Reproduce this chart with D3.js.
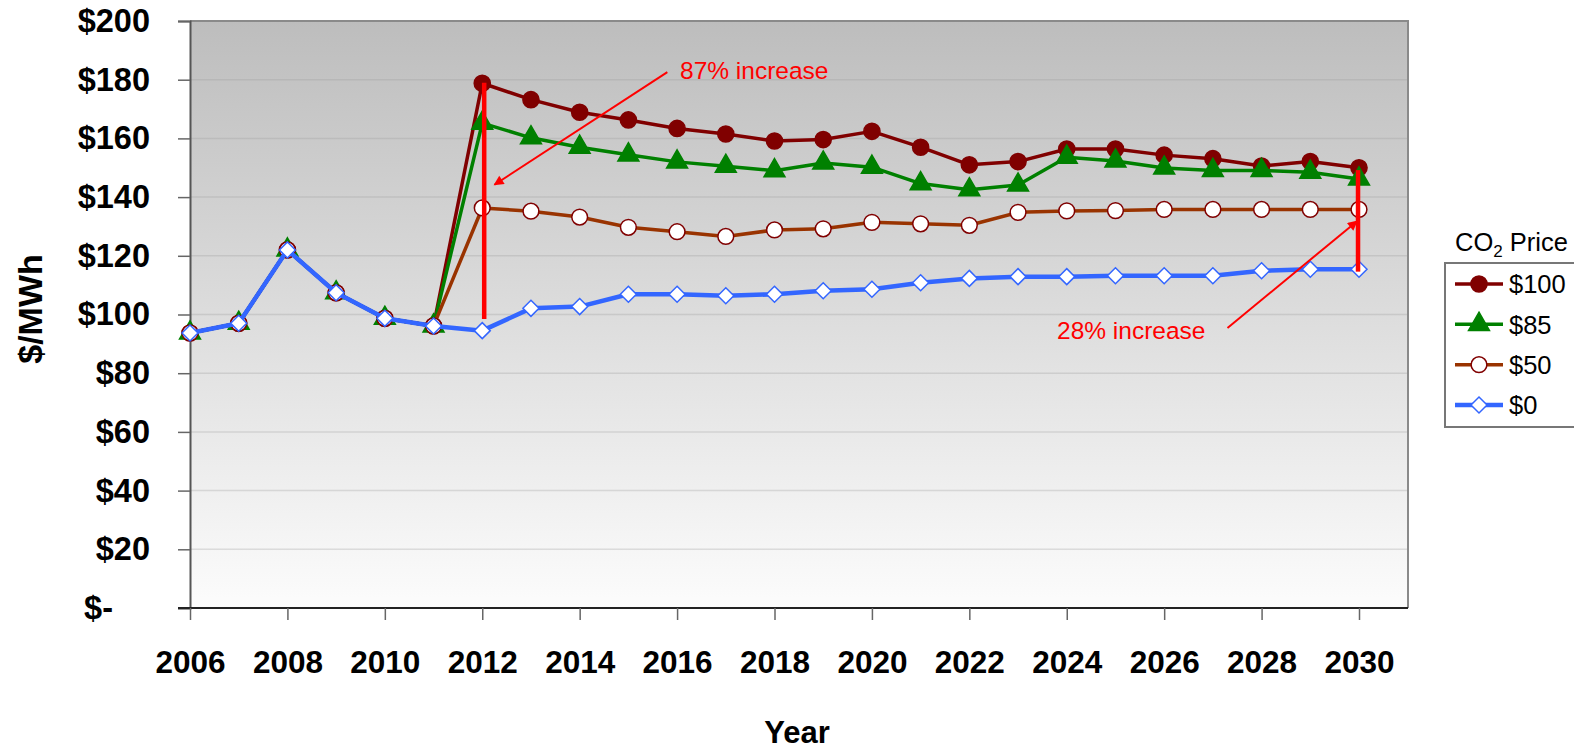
<!doctype html>
<html>
  <head>
    <title>CO2 price scenarios</title>
    <style>
      body { margin: 0; background: #fff; }
      text { font-family: "Liberation Sans", Arial, sans-serif; }
    </style>
  </head>
  <body>
    <div id="chart"></div>

    <script src="https://d3js.org/d3.v7.min.js"></script>
    <script>
      var years = [2006, 2007, 2008, 2009, 2010, 2011, 2012, 2013, 2014, 2015, 2016, 2017, 2018,
                   2019, 2020, 2021, 2022, 2023, 2024, 2025, 2026, 2027, 2028, 2029, 2030];
      var price100 = [93.7, 97, 122, 107.4, 98.7, 96.1, 178.8, 173.2, 168.9, 166.3, 163.4, 161.5, 159.1,
                      159.6, 162.4, 157, 151, 152.1, 156.4, 156.4, 154.3, 153.1, 150.6, 152.1, 150];
      var price85 = [93.7, 97, 122, 107.4, 98.7, 96.1, 165.2, 160.2, 157, 154.4, 152, 150.5, 149,
                     151.6, 150.2, 144.6, 142.5, 144.1, 153.6, 152.3, 149.9, 149.1, 149.1, 148.5, 146.2];
      var price50 = [93.7, 97, 122, 107.4, 98.7, 96.1, 136.3, 135.2, 133.2, 129.7, 128.2, 126.6, 128.8,
                     129.2, 131.4, 130.9, 130.4, 134.8, 135.3, 135.4, 135.8, 135.8, 135.8, 135.8, 135.8];
      var price0 = [93.7, 97, 122, 107.4, 98.7, 96.1, 94.5, 102.1, 102.7, 106.9, 106.9, 106.4, 106.9,
                    108.1, 108.6, 110.8, 112.3, 112.9, 112.9, 113.2, 113.2, 113.2, 114.9, 115.4, 115.4];
      var seriesNames = ['$100', '$85', '$50', '$0'];
      var yTicks = [0, 20, 40, 60, 80, 100, 120, 140, 160, 180, 200];
      var xTickYears = [2006, 2008, 2010, 2012, 2014, 2016, 2018, 2020, 2022, 2024, 2026, 2028, 2030];
      // annotation bars: [year, from, to], arrows: [x1, y1, x2, y2] in data units
      var bars = [[2012.04, 98.5, 179], [2029.98, 114.6, 149.2]];
      var arrows = [[2015.8, 182.6, 2012.25, 144.2], [2027.3, 95.4, 2029.96, 131.8]];
      var notes = [['87% increase', 2016.06, 180.2], ['28% increase', 2023.8, 91.8]];

      var width = 1574, height = 749;
      var plotLeft = 190, plotTop = 21, plotRight = 1408, plotBottom = 608;

      var svg = d3.select('#chart').append('svg')
        .attr('width', width)
        .attr('height', height);

      var x = d3.scaleLinear().domain([2006, 2030]).range([plotLeft, 1359]);
      var y = d3.scaleLinear().domain([0, 200]).range([plotBottom, plotTop]);

      var defs = svg.append('defs');
      var grad = defs.append('linearGradient')
        .attr('id', 'bg').attr('x1', 0).attr('y1', 0).attr('x2', 0).attr('y2', 1);
      grad.append('stop').attr('offset', '0%').attr('stop-color', '#bdbdbd');
      grad.append('stop').attr('offset', '100%').attr('stop-color', '#fcfcfc');
      defs.append('marker')
        .attr('id', 'head').attr('viewBox', '0 0 10 10')
        .attr('refX', 9).attr('refY', 5)
        .attr('markerWidth', 12).attr('markerHeight', 10)
        .attr('markerUnits', 'userSpaceOnUse')
        .attr('orient', 'auto')
        .append('path').attr('d', 'M0,0L10,5L0,10Z').attr('fill', '#ff0000');

      svg.append('rect')
        .attr('x', plotLeft).attr('y', plotTop)
        .attr('width', plotRight - plotLeft).attr('height', plotBottom - plotTop)
        .attr('fill', 'url(#bg)');

      // gridlines
      svg.append('g').selectAll('line')
        .data(yTicks.filter(function(d) { return d > 0 && d < 200; }))
        .enter().append('line')
        .attr('x1', plotLeft).attr('x2', plotRight)
        .attr('y1', function(d) { return y(d); })
        .attr('y2', function(d) { return y(d); })
        .attr('stroke', '#9a9a9a').attr('stroke-opacity', 0.3).attr('stroke-width', 1.5);

      // plot border top/right
      svg.append('path')
        .attr('d', 'M' + plotLeft + ',' + plotTop + 'H' + plotRight + 'V' + plotBottom)
        .attr('fill', 'none').attr('stroke', '#8a8a8a').attr('stroke-width', 2);

      // y axis
      var yAxis = d3.axisLeft(y)
        .tickValues(yTicks)
        .tickSize(12)
        .tickPadding(28)
        .tickFormat(function(d) { return d === 0 ? '$-' : '$' + d; });
      var gy = svg.append('g').attr('transform', 'translate(' + plotLeft + ',0)').call(yAxis);
      gy.select('.domain').attr('stroke', '#555').attr('stroke-width', 2);
      gy.selectAll('.tick line').attr('stroke', '#666').attr('stroke-width', 1.5);
      gy.selectAll('.tick text')
        .attr('font-size', 32.5).attr('font-weight', 'bold').attr('fill', '#000')
        .attr('font-family', '"Liberation Sans", Arial, sans-serif')
        .attr('dx', function(d) { return d === 0 ? -37 : 0; });

      // x axis
      var xAxis = d3.axisBottom(x)
        .tickValues(xTickYears)
        .tickSize(12)
        .tickPadding(31)
        .tickFormat(d3.format('d'));
      var gx = svg.append('g').attr('transform', 'translate(0,' + plotBottom + ')').call(xAxis);
      gx.select('.domain').attr('d', 'M' + (plotLeft - 12) + ',0H' + plotRight)
        .attr('stroke', '#222').attr('stroke-width', 2);
      gx.selectAll('.tick line').attr('stroke', '#666').attr('stroke-width', 1.5);
      gx.selectAll('.tick text')
        .attr('font-size', 31.5).attr('font-weight', 'bold').attr('fill', '#000')
        .attr('font-family', '"Liberation Sans", Arial, sans-serif');

      svg.append('text')
        .attr('transform', 'translate(42,309) rotate(-90)')
        .attr('text-anchor', 'middle')
        .attr('font-size', 34).attr('font-weight', 'bold')
        .text('$/MWh');
      svg.append('text')
        .attr('x', 797).attr('y', 743)
        .attr('text-anchor', 'middle')
        .attr('font-size', 31).attr('font-weight', 'bold')
        .text('Year');

      var diamond = 'M0,-8L8,0L0,8L-8,0Z';
      var series = [
        { name: seriesNames[0], values: price100, line: '#800000', width: 3.5,
          symbol: d3.symbol().type(d3.symbolCircle).size(205)(), fill: '#800000', stroke: '#800000' },
        { name: seriesNames[1], values: price85, line: '#008000', width: 3.5,
          symbol: d3.symbol().type(d3.symbolTriangle).size(190)(), fill: '#008000', stroke: '#008000' },
        { name: seriesNames[2], values: price50, line: '#993300', width: 3.5,
          symbol: d3.symbol().type(d3.symbolCircle).size(195)(), fill: '#ffffff', stroke: '#800000' },
        { name: seriesNames[3], values: price0, line: '#3366ff', width: 4.5,
          symbol: diamond, fill: '#ffffff', stroke: '#3366ff' }
      ];

      var line = d3.line()
        .x(function(d, i) { return x(years[i]); })
        .y(function(d) { return y(d); });

      series.forEach(function(s) {
        var g = svg.append('g');
        g.append('path')
          .attr('d', line(s.values))
          .attr('fill', 'none')
          .attr('stroke', s.line)
          .attr('stroke-width', s.width)
          .attr('stroke-linejoin', 'round');
        g.selectAll('path.pt')
          .data(s.values)
          .enter().append('path')
          .attr('class', 'pt')
          .attr('d', s.symbol)
          .attr('transform', function(d, i) { return 'translate(' + x(years[i]) + ',' + y(d) + ')'; })
          .attr('fill', s.fill)
          .attr('stroke', s.stroke)
          .attr('stroke-width', 1.5);
      });

      // annotations
      svg.append('g').selectAll('line')
        .data(bars)
        .enter().append('line')
        .attr('x1', function(d) { return x(d[0]); })
        .attr('x2', function(d) { return x(d[0]); })
        .attr('y1', function(d) { return y(d[1]); })
        .attr('y2', function(d) { return y(d[2]); })
        .attr('stroke', '#ff0000').attr('stroke-width', 4.5);
      svg.append('g').selectAll('line')
        .data(arrows)
        .enter().append('line')
        .attr('x1', function(d) { return x(d[0]); })
        .attr('y1', function(d) { return y(d[1]); })
        .attr('x2', function(d) { return x(d[2]); })
        .attr('y2', function(d) { return y(d[3]); })
        .attr('stroke', '#ff0000').attr('stroke-width', 2)
        .attr('marker-end', 'url(#head)');
      svg.append('g').selectAll('text')
        .data(notes)
        .enter().append('text')
        .attr('x', function(d) { return x(d[1]); })
        .attr('y', function(d) { return y(d[2]); })
        .attr('font-size', 24.5).attr('fill', '#ff0000')
        .text(function(d) { return d[0]; });

      // legend
      var title = svg.append('text')
        .attr('x', 1455).attr('y', 251)
        .attr('font-size', 25.5);
      title.append('tspan').text('CO');
      title.append('tspan').attr('font-size', 17).attr('dy', 6).text('2');
      title.append('tspan').attr('dy', -6).text(' Price');

      svg.append('rect')
        .attr('x', 1445).attr('y', 263)
        .attr('width', 140).attr('height', 164)
        .attr('fill', '#fff').attr('stroke', '#777').attr('stroke-width', 2);

      var legY = d3.scalePoint().domain(seriesNames).range([284, 405]);
      var leg = svg.append('g').selectAll('g')
        .data(series)
        .enter().append('g')
        .attr('transform', function(d) { return 'translate(0,' + legY(d.name) + ')'; });
      leg.append('line')
        .attr('x1', 1455).attr('x2', 1503)
        .attr('stroke', function(d) { return d.line; })
        .attr('stroke-width', function(d) { return d.width; });
      leg.append('path')
        .attr('d', function(d) { return d.symbol; })
        .attr('transform', 'translate(1479,0)')
        .attr('fill', function(d) { return d.fill; })
        .attr('stroke', function(d) { return d.stroke; })
        .attr('stroke-width', 1.5);
      leg.append('text')
        .attr('x', 1509).attr('dy', '0.36em')
        .attr('font-size', 25.5)
        .text(function(d) { return d.name; });
    </script>
  </body>
</html>
